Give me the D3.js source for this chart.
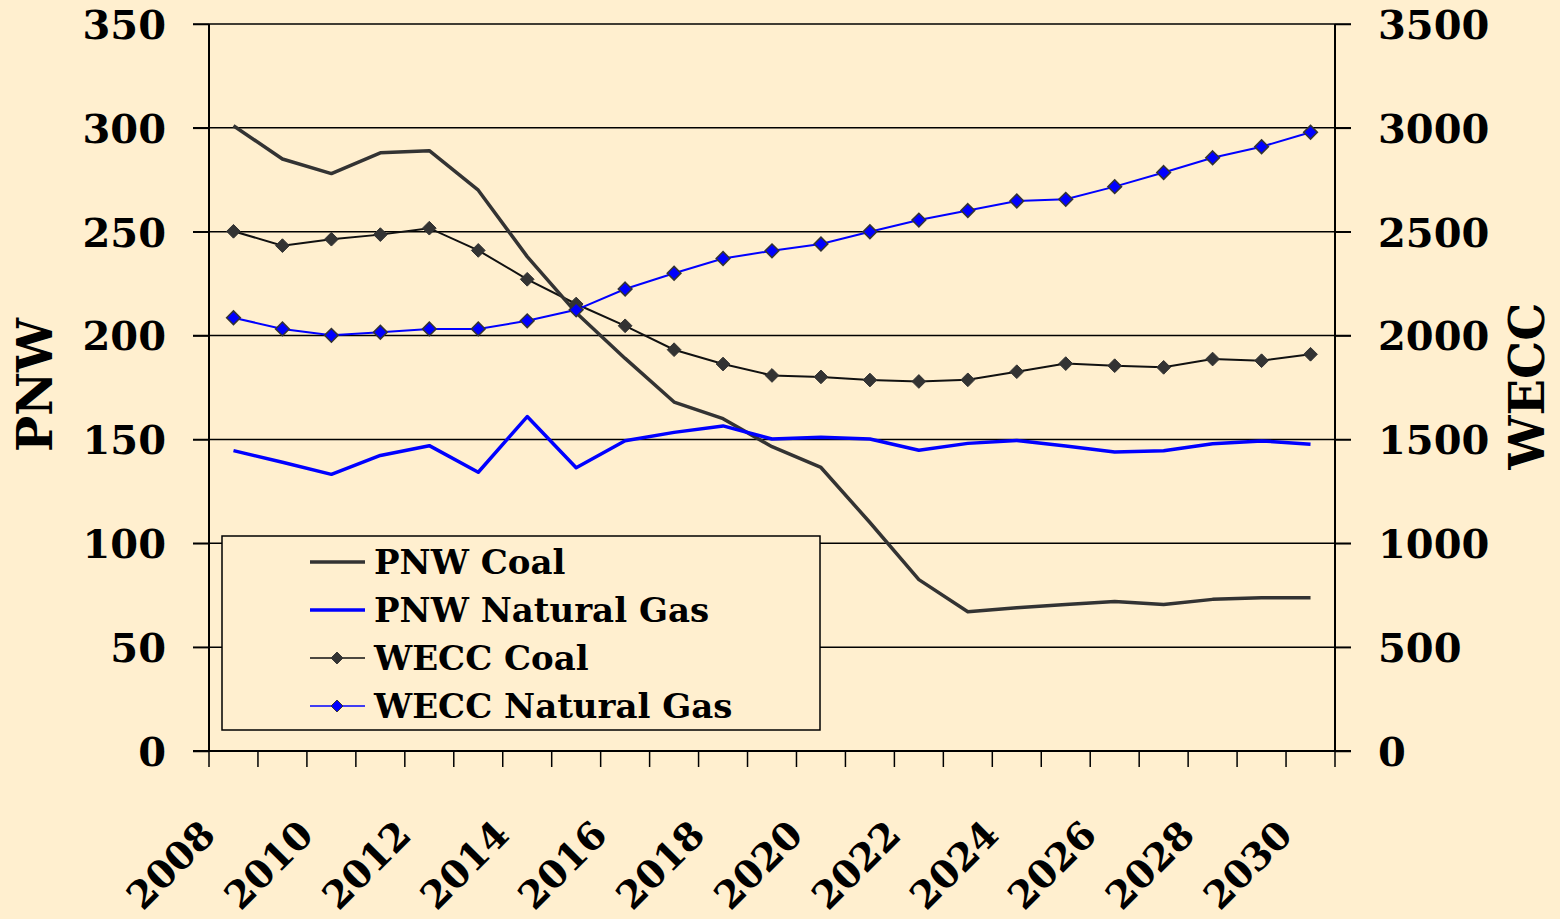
<!DOCTYPE html>
<meta charset="utf-8">
<title>PNW / WECC Coal and Natural Gas</title>
<style>
  body { margin: 0; background: #ffefcf; }
  svg text { font-family: "DejaVu Serif", "Liberation Serif", serif; font-weight: bold; fill: #000; }
</style>
<body>
<script src="https://cdn.jsdelivr.net/npm/d3@7"></script>
<script>
// data
var years = d3.range(2008, 2031);
var pnwCoal = [301, 285, 278, 288, 289, 270, 238, 211, 189, 168, 160, 146.5, 136.5, 110, 82.5, 67, 69, 70.5, 72, 70.5, 73, 73.8, 73.8];
var pnwGas = [144.6, 139, 133.2, 142.3, 147, 134.2, 161, 136.4, 149.4, 153.4, 156.5, 150.2, 151, 150.2, 144.8, 148.1, 149.5, 146.8, 143.9, 144.5, 147.9, 149.3, 147.7];
var weccCoal = [2502, 2433, 2464, 2486, 2517, 2410, 2271, 2152, 2047, 1932, 1863, 1808, 1801, 1786, 1779, 1787, 1826, 1865, 1855, 1847, 1887, 1879, 1910];
var weccGas = [2086, 2032, 2001, 2016, 2032, 2032, 2071, 2124, 2224, 2300, 2371, 2408, 2441, 2500, 2556, 2602, 2648, 2656, 2717, 2785, 2856, 2909, 2979];
var leftTicks = [0, 50, 100, 150, 200, 250, 300, 350];
var rightTicks = [0, 500, 1000, 1500, 2000, 2500, 3000, 3500];
var yearLabels = d3.range(2008, 2031, 2);

var width = 1560, height = 919;
var plotLeft = 209, plotRight = 1335, plotTop = 24, plotBottom = 751;

var svg = d3.select("body").append("svg")
    .attr("width", width)
    .attr("height", height)
    .style("display", "block");

svg.append("rect").attr("width", width).attr("height", height).attr("fill", "#ffefcf");

var x = d3.scaleBand().domain(years).range([plotLeft, plotRight]).padding(0);
var yL = d3.scaleLinear().domain([0, 350]).range([plotBottom, plotTop]);
var yR = d3.scaleLinear().domain([0, 3500]).range([plotBottom, plotTop]);
var cx = d => x(d) + x.bandwidth() / 2;

// gridlines (they run out past both axes as tick marks)
svg.append("g").selectAll("line")
    .data(leftTicks)
    .join("line")
    .attr("x1", plotLeft - 16).attr("x2", plotRight + 16)
    .attr("y1", d => yL(d)).attr("y2", d => yL(d))
    .attr("stroke", "#000").attr("stroke-width", 1.5);

// left axis
var gL = svg.append("g").attr("transform", `translate(${plotLeft},0)`)
    .call(d3.axisLeft(yL).tickValues(leftTicks).tickSize(16).tickPadding(27));
gL.selectAll("text").style("font-size", "40px").attr("dy", "0.36em");

// right axis
var gR = svg.append("g").attr("transform", `translate(${plotRight},0)`)
    .call(d3.axisRight(yR).tickValues(rightTicks).tickFormat(d3.format("d")).tickSize(16).tickPadding(27));
gR.selectAll("text").style("font-size", "40px").attr("dy", "0.36em");

[gL, gR].forEach(g => {
  g.select(".domain").attr("stroke", "#000").attr("stroke-width", 2)
    .attr("d", `M0,${plotTop}V${plotBottom}`);
  g.selectAll("line").attr("stroke", "#000").attr("stroke-width", 1.5);
});

// bottom axis, ticks sit between the categories
var gB = svg.append("g");
gB.append("line")
    .attr("x1", plotLeft - 16).attr("x2", plotRight + 16)
    .attr("y1", plotBottom).attr("y2", plotBottom)
    .attr("stroke", "#000").attr("stroke-width", 2);
gB.selectAll("line.tick")
    .data(years.concat([years[years.length - 1] + 1]))
    .join("line")
    .attr("class", "tick")
    .attr("x1", d => d > years[years.length - 1] ? plotRight : x(d))
    .attr("x2", d => d > years[years.length - 1] ? plotRight : x(d))
    .attr("y1", plotBottom).attr("y2", plotBottom + 16)
    .attr("stroke", "#000").attr("stroke-width", 1.5);
gB.selectAll("text")
    .data(yearLabels)
    .join("text")
    .attr("transform", d => `translate(${cx(d) - 16},${plotBottom + 86}) rotate(-45)`)
    .attr("text-anchor", "end")
    .style("font-size", "38px")
    .text(d => d);

// axis titles
svg.append("text")
    .attr("transform", `translate(52,385) rotate(-90)`)
    .attr("text-anchor", "middle")
    .style("font-size", "48px")
    .text("PNW");
svg.append("text")
    .attr("transform", `translate(1544,386) rotate(-90)`)
    .attr("text-anchor", "middle")
    .style("font-size", "48px")
    .text("WECC");

var lineL = d3.line().x((d, i) => cx(years[i])).y(d => yL(d));
var lineR = d3.line().x((d, i) => cx(years[i])).y(d => yR(d));
var diamond = d3.symbol().type(d3.symbolDiamond2).size(120);

// WECC series (thin, with markers)
svg.append("path").datum(weccCoal)
    .attr("d", lineR).attr("fill", "none").attr("stroke", "#111").attr("stroke-width", 2);
svg.append("path").datum(weccGas)
    .attr("d", lineR).attr("fill", "none").attr("stroke", "#0000ff").attr("stroke-width", 2);

// PNW series (thick, no markers)
svg.append("path").datum(pnwCoal)
    .attr("d", lineL).attr("fill", "none").attr("stroke", "#333").attr("stroke-width", 3.5)
    .attr("stroke-linejoin", "round");
svg.append("path").datum(pnwGas)
    .attr("d", lineL).attr("fill", "none").attr("stroke", "#0000ff").attr("stroke-width", 3.5)
    .attr("stroke-linejoin", "round");

svg.append("g").selectAll("path")
    .data(weccCoal)
    .join("path")
    .attr("transform", (d, i) => `translate(${cx(years[i])},${yR(d)})`)
    .attr("d", diamond)
    .attr("fill", "#333").attr("stroke", "#333").attr("stroke-width", 1);
svg.append("g").selectAll("path")
    .data(weccGas)
    .join("path")
    .attr("transform", (d, i) => `translate(${cx(years[i])},${yR(d)})`)
    .attr("d", diamond)
    .attr("fill", "#0000ff").attr("stroke", "#333").attr("stroke-width", 1.5);

// legend
var legendItems = [
  {name: "PNW Coal", color: "#333", w: 3.5, marker: false},
  {name: "PNW Natural Gas", color: "#0000ff", w: 3.5, marker: false},
  {name: "WECC Coal", color: "#111", w: 1.5, marker: "#333"},
  {name: "WECC Natural Gas", color: "#0000ff", w: 1.5, marker: "#0000ff"}
];
var lg = svg.append("g");
lg.append("rect")
    .attr("x", 222).attr("y", 536).attr("width", 598).attr("height", 194)
    .attr("fill", "#ffefcf").attr("stroke", "#000").attr("stroke-width", 1.5);
var row = lg.selectAll("g.item")
    .data(legendItems)
    .join("g")
    .attr("class", "item")
    .attr("transform", (d, i) => `translate(0,${562 + i * 48})`);
row.append("line")
    .attr("x1", 310).attr("x2", 365)
    .attr("stroke", d => d.color).attr("stroke-width", d => d.w);
row.filter(d => d.marker)
    .append("path")
    .attr("transform", "translate(337,0)")
    .attr("d", d3.symbol().type(d3.symbolDiamond2).size(90))
    .attr("fill", d => d.marker).attr("stroke", "#333");
row.append("text")
    .attr("x", 374).attr("dy", "0.36em")
    .style("font-size", "34px")
    .text(d => d.name);
</script>
</body>
